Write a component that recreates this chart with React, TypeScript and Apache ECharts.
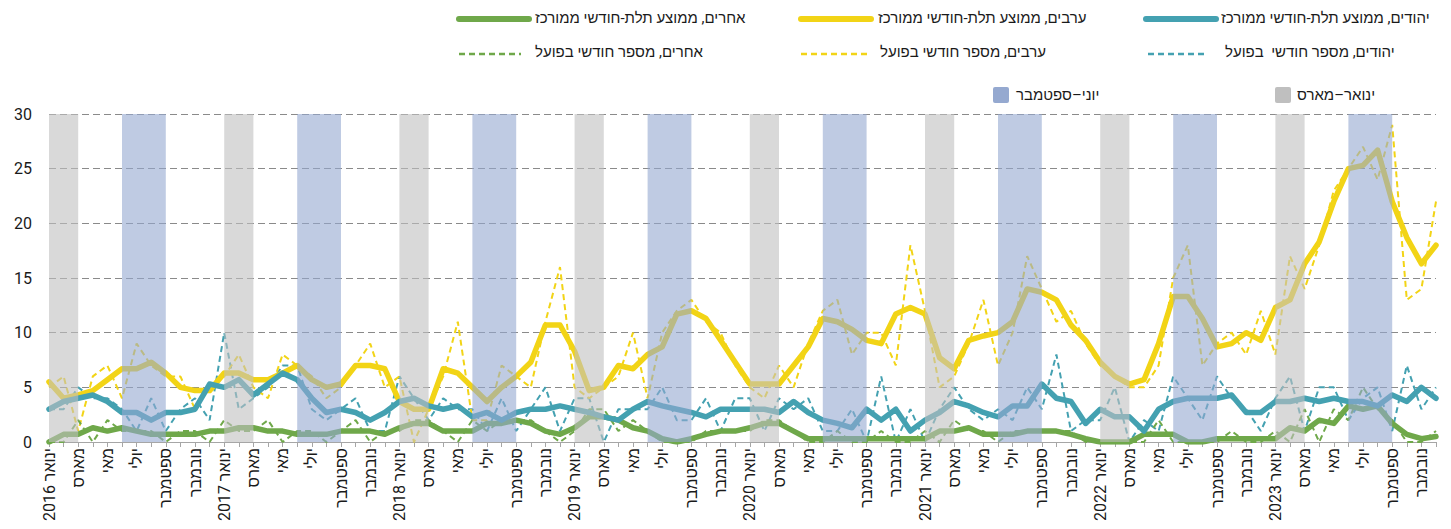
import React, { useEffect, useRef } from "react";
import * as echarts from "echarts";

// ---------- data ----------
const years = [2016, 2017, 2018, 2019, 2020, 2021, 2022, 2023];
const monthNames = ["ינואר", "פברואר", "מארס", "אפריל", "מאי", "יוני", "יולי", "אוגוסט", "ספטמבר", "אוקטובר", "נובמבר", "דצמבר"];
const categories: string[] = years.flatMap((y) => monthNames.map((_, i) => `${y}-${String(i + 1).padStart(2, "0")}`));
const tickLabels: string[] = years.flatMap((y) => monthNames.map((m, i) => (i === 0 ? `${m} ${y}` : m)));

// actual monthly numbers
const jewsActual = [
  3, 3, 5, 4, 4, 3, 1, 4, 1, 3,
  4, 2, 10, 3, 4, 5, 7, 7, 3, 2,
  3, 4, 1, 1, 6, 4, 2, 4, 3, 3,
  1, 4, 1, 3, 5, 1, 4, 4, 0, 3,
  3, 3, 5, 2, 2, 4, 1, 4, 4, 1,
  4, 3, 4, 1, 1, 3, 0, 6, 0, 3,
  0, 3, 5, 3, 2, 3, 2, 5, 3, 8,
  1, 2, 2, 5, 0, 2, 1, 6, 4, 2,
  6, 4, 3, 1, 4, 6, 1, 5, 5, 2,
  4, 5, 1, 7, 3, 5,
];
const arabsActual = [
  5, 6, 1, 6, 7, 4, 9, 7, 6, 6,
  3, 5, 6, 8, 5, 4, 8, 7, 6, 4,
  5, 7, 9, 5, 6, 0, 3, 6, 11, 2,
  2, 7, 6, 5, 11, 16, 5, 4, 5, 6,
  10, 4, 10, 12, 13, 11, 10, 7, 5, 4,
  7, 5, 9, 12, 13, 8, 10, 10, 7, 18,
  12, 5, 6, 9, 13, 7, 10, 17, 14, 11,
  12, 9, 7, 6, 5, 5, 7, 15, 18, 7,
  9, 10, 8, 12, 8, 17, 14, 18, 23, 25,
  27, 24, 29, 13, 14, 22,
];
const othersActual = [
  0, 0, 2, 0, 2, 1, 1, 1, 0, 1,
  1, 0, 2, 1, 1, 2, 0, 1, 1, 0,
  1, 2, 0, 1, 1, 2, 2, 1, 0, 2,
  1, 2, 2, 2, 1, 0, 1, 3, 3, 1,
  2, 1, 0, 0, 0, 1, 1, 1, 1, 2,
  2, 1, 0, 0, 1, 0, 0, 1, 0, 0,
  1, 0, 2, 1, 1, 0, 1, 1, 1, 1,
  1, 0, 0, 0, 0, 0, 2, 0, 0, 0,
  0, 1, 0, 0, 1, 0, 3, 0, 3, 2,
  5, 3, 2, 0, 0, 1,
];

// centered three-month averages (as drawn)
const jewsAvg = [
  3.0, 3.7, 4.0, 4.3, 3.7, 2.7, 2.7, 2.0, 2.7, 2.7,
  3.0, 5.3, 5.0, 5.7, 4.3, 5.3, 6.3, 5.7, 4.0, 2.7,
  3.0, 2.7, 2.0, 2.7, 3.7, 4.0, 3.3, 3.0, 3.3, 2.3,
  2.7, 2.0, 2.7, 3.0, 3.0, 3.3, 3.0, 2.7, 2.3, 2.0,
  3.0, 3.7, 3.3, 3.0, 2.7, 2.3, 3.0, 3.0, 3.0, 3.0,
  2.7, 3.7, 2.7, 2.0, 1.7, 1.3, 3.0, 2.0, 3.0, 1.0,
  2.0, 2.7, 3.7, 3.3, 2.7, 2.3, 3.3, 3.3, 5.3, 4.0,
  3.7, 1.7, 3.0, 2.3, 2.3, 1.0, 3.0, 3.7, 4.0, 4.0,
  4.0, 4.3, 2.7, 2.7, 3.7, 3.7, 4.0, 3.7, 4.0, 3.7,
  3.7, 3.3, 4.3, 3.7, 5.0, 4.0,
];
const arabsAvg = [
  5.5, 4.0, 4.3, 4.7, 5.7, 6.7, 6.7, 7.3, 6.3, 5.0,
  4.7, 4.7, 6.3, 6.3, 5.7, 5.7, 6.3, 7.0, 5.7, 5.0,
  5.3, 7.0, 7.0, 6.7, 3.7, 3.0, 3.0, 6.7, 6.3, 5.0,
  3.7, 5.0, 6.0, 7.3, 10.7, 10.7, 8.3, 4.7, 5.0, 7.0,
  6.7, 8.0, 8.7, 11.7, 12.0, 11.3, 9.3, 7.3, 5.3, 5.3,
  5.3, 7.0, 8.7, 11.3, 11.0, 10.3, 9.3, 9.0, 11.7, 12.3,
  11.7, 7.7, 6.7, 9.3, 9.7, 10.0, 11.0, 14.0, 13.7, 13.0,
  10.7, 9.3, 7.3, 6.0, 5.3, 5.7, 9.0, 13.3, 13.3, 11.3,
  8.7, 9.0, 10.0, 9.3, 12.3, 13.0, 16.3, 18.3, 22.0, 25.0,
  25.3, 26.7, 22.0, 18.7, 16.3, 18.0,
];
const othersAvg = [
  0.0, 0.7, 0.7, 1.3, 1.0, 1.3, 1.0, 0.7, 0.7, 0.7,
  0.7, 1.0, 1.0, 1.3, 1.3, 1.0, 1.0, 0.7, 0.7, 0.7,
  1.0, 1.0, 1.0, 0.7, 1.3, 1.7, 1.7, 1.0, 1.0, 1.0,
  1.7, 1.7, 2.0, 1.7, 1.0, 0.7, 1.3, 2.3, 2.3, 2.0,
  1.3, 1.0, 0.3, 0.0, 0.3, 0.7, 1.0, 1.0, 1.3, 1.7,
  1.7, 1.0, 0.3, 0.3, 0.3, 0.3, 0.3, 0.3, 0.3, 0.3,
  0.3, 1.0, 1.0, 1.3, 0.7, 0.7, 0.7, 1.0, 1.0, 1.0,
  0.7, 0.3, 0.0, 0.0, 0.0, 0.7, 0.7, 0.7, 0.0, 0.0,
  0.3, 0.3, 0.3, 0.3, 0.3, 1.3, 1.0, 2.0, 1.7, 3.3,
  3.0, 3.3, 1.7, 0.7, 0.3, 0.5,
];

const seriesNames = {
  jewsAvg: "יהודים, ממוצע תלת-חודשי ממורכז",
  arabsAvg: "ערבים, ממוצע תלת-חודשי ממורכז",
  othersAvg: "אחרים, ממוצע תלת-חודשי ממורכז",
  jewsActual: "יהודים, מספר חודשי  בפועל",
  arabsActual: "ערבים, מספר חודשי בפועל",
  othersActual: "אחרים, מספר חודשי בפועל",
};
const bandNames = { winter: "ינואר–מארס", summer: "יוני–ספטמבר" };
const yTicks = { min: 0, max: 30, interval: 5 };

// ---------- styles ----------
const JEW = "#44a1b1";
const ARAB = "#f2d416";
const OTHER = "#6fa84a";
const GRAY = "#bfbfbf";
const BLUE = "#95a9d0";
const FONT = "Roboto, 'Liberation Sans', 'DejaVu Sans', sans-serif";
const TEXT = "#1a1a1a";

export default function App() {
  const ref = useRef<HTMLDivElement>(null);

  useEffect(() => {
    if (!ref.current) return;
    const chart = echarts.init(ref.current, undefined, { renderer: "svg" });

    const line = (name: string, data: number[], color: string, thick: boolean) => ({
      type: "line",
      name,
      data,
      symbol: "none",
      showSymbol: false,
      silent: true,
      z: thick ? 4 : 3,
      itemStyle: { color },
      lineStyle: thick
        ? { color, width: 5.5, cap: "round", join: "round" }
        : { color, width: 2, type: [6, 4] },
    });

    const winterAreas = years.map((y) => [{ xAxis: `${y}-01` }, { xAxis: `${y}-03` }]);
    const summerAreas = years.map((y) => [{ xAxis: `${y}-06` }, { xAxis: `${y}-09` }]);
    const empty = categories.map(() => null);

    const legendLine = (x1: number, x2: number, y: number, color: string, thick: boolean) => ({
      type: "line",
      silent: true,
      shape: { x1, y1: y, x2, y2: y },
      style: thick
        ? { stroke: color, lineWidth: 6, lineCap: "round" }
        : { stroke: color, lineWidth: 2.5, lineDash: [6, 4] },
    });
    const legendText = (x: number, y: number, text: string) => ({
      type: "text",
      silent: true,
      x,
      y,
      style: { text, fill: TEXT, fontSize: 15, fontFamily: FONT, textAlign: "left", textVerticalAlign: "middle" },
    });

    chart.setOption({
      animation: false,
      grid: { left: 49, right: 15, top: 114, bottom: 87, containLabel: false },
      xAxis: {
        type: "category",
        data: categories,
        boundaryGap: false,
        axisLine: { lineStyle: { color: "#a6a6a6", width: 1 } },
        axisTick: { show: true, interval: 0, length: 5, lineStyle: { color: "#a6a6a6" } },
        axisLabel: {
          interval: 1,
          rotate: 90,
          margin: 6,
          fontSize: 16,
          color: TEXT,
          fontFamily: FONT,
          formatter: (_v: string, i: number) => tickLabels[i],
        },
        splitLine: { show: false },
      },
      yAxis: {
        type: "value",
        min: yTicks.min,
        max: yTicks.max,
        interval: yTicks.interval,
        axisLine: { show: false },
        axisTick: { show: false },
        axisLabel: { fontSize: 16, color: TEXT, fontFamily: FONT, margin: 17 },
        splitLine: { lineStyle: { color: "#8a8a8a", width: 1.2, type: [7, 4] } },
      },
      series: [
        line(seriesNames.jewsActual, jewsActual, JEW, false),
        line(seriesNames.arabsActual, arabsActual, ARAB, false),
        line(seriesNames.othersActual, othersActual, OTHER, false),
        line(seriesNames.othersAvg, othersAvg, OTHER, true),
        line(seriesNames.arabsAvg, arabsAvg, ARAB, true),
        line(seriesNames.jewsAvg, jewsAvg, JEW, true),
        {
          type: "line",
          name: bandNames.winter,
          data: empty,
          symbol: "none",
          silent: true,
          markArea: { silent: true, z: 10, itemStyle: { color: GRAY, opacity: 0.6 }, data: winterAreas },
        },
        {
          type: "line",
          name: bandNames.summer,
          data: empty,
          symbol: "none",
          silent: true,
          markArea: { silent: true, z: 10, itemStyle: { color: BLUE, opacity: 0.6 }, data: summerAreas },
        },
      ],
      graphic: [
        legendLine(1146, 1216, 19, JEW, true),
        legendText(1221, 18, seriesNames.jewsAvg),
        legendLine(801, 871, 19, ARAB, true),
        legendText(878, 18, seriesNames.arabsAvg),
        legendLine(459, 529, 19, OTHER, true),
        legendText(535, 18, seriesNames.othersAvg),
        legendLine(1148, 1208, 54, JEW, false),
        legendText(1225, 52, seriesNames.jewsActual),
        legendLine(801, 871, 54, ARAB, false),
        legendText(880, 52, seriesNames.arabsActual),
        legendLine(459, 521, 54, OTHER, false),
        legendText(535, 52, seriesNames.othersActual),
        { type: "rect", silent: true, shape: { x: 1275, y: 87, width: 16, height: 16, r: 2 }, style: { fill: GRAY } },
        legendText(1297, 95, bandNames.winter),
        { type: "rect", silent: true, shape: { x: 993, y: 87, width: 16, height: 16, r: 2 }, style: { fill: BLUE } },
        legendText(1016, 95, bandNames.summer),
      ],
    });

    return () => chart.dispose();
  }, []);

  return (
    <div
      ref={ref}
      style={{ position: "fixed", left: 0, top: 0, width: 1451, height: 529, background: "#fff" }}
    />
  );
}
